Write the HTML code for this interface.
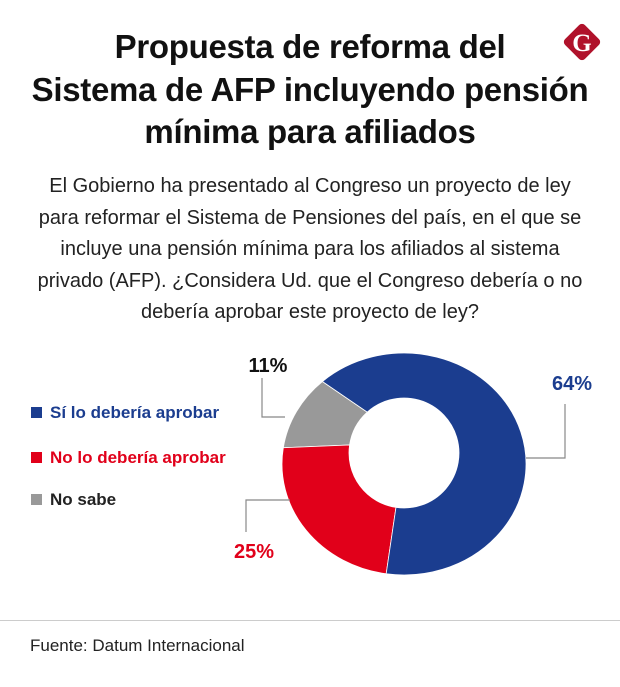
<!DOCTYPE html>
<html><head><meta charset="utf-8"><style>
body{margin:0;width:620px;height:687px;background:#fff;font-family:"Liberation Sans",sans-serif;position:relative;overflow:hidden}
.t{position:absolute;left:0;width:620px;text-align:center;font-weight:bold;font-size:33px;color:#111;letter-spacing:-0.3px}
.s{position:absolute;left:0;width:620px;text-align:center;font-size:20px;color:#222}
.lg{position:absolute;left:31px;font-weight:bold;font-size:17px}
.lg span{display:inline-block;width:11px;height:11px;margin-right:8px;vertical-align:0px}
</style></head><body>
<div class="t" style="top:28px">Propuesta de reforma del</div>
<div class="t" style="top:71px">Sistema de AFP incluyendo pensión</div>
<div class="t" style="top:113px">mínima para afiliados</div>
<svg style="position:absolute;left:560px;top:20px" width="44" height="44" viewBox="0 0 44 44"><rect x="8" y="8" width="28" height="28" rx="4" transform="rotate(45 22 22)" fill="#b0122b"/><text x="22" y="31" text-anchor="middle" font-family="Liberation Serif" font-weight="bold" font-size="25" fill="#fff">G</text></svg>
<div class="s" style="top:171px;line-height:31.5px">El Gobierno ha presentado al Congreso un proyecto de ley<br>para reformar el Sistema de Pensiones del país, en el que se<br>incluye una pensión mínima para los afiliados al sistema<br>privado (AFP). ¿Considera Ud. que el Congreso debería o no<br>debería aprobar este proyecto de ley?</div>
<div class="lg" style="top:403px;color:#1b3d8f"><span style="background:#1b3d8f"></span>Sí lo debería aprobar</div>
<div class="lg" style="top:448px;color:#e1001a"><span style="background:#e1001a"></span>No lo debería aprobar</div>
<div class="lg" style="top:490px;color:#222"><span style="background:#999"></span>No sabe</div>
<svg id="ch" style="position:absolute;left:0;top:0" width="620" height="687">
<polyline points="526,458 565,458 565,404" fill="none" stroke="#888" stroke-width="1.2"/>
<polyline points="285,417 262,417 262,378" fill="none" stroke="#888" stroke-width="1.2"/>
<polyline points="290,500 246,500 246,532" fill="none" stroke="#888" stroke-width="1.2"/>
<text x="572" y="390" text-anchor="middle" font-weight="bold" font-size="20" fill="#1b3d8f">64%</text>
<text x="268" y="372" text-anchor="middle" font-weight="bold" font-size="20" fill="#111">11%</text>
<text x="254" y="558" text-anchor="middle" font-weight="bold" font-size="20" fill="#e1001a">25%</text>
</svg>
<div style="position:absolute;left:0;top:620px;width:620px;height:1px;background:#ccc"></div>
<div style="position:absolute;left:30px;top:636px;font-size:17px;color:#222">Fuente: Datum Internacional</div>
<script>
const categories=["Sí lo debería aprobar","No lo debería aprobar","No sabe"];
const values=[64,25,11];
const colors=["#1b3d8f","#e1001a","#999999"];
const svg=document.getElementById('ch');
const oc={x:404,y:464,rx:122,ry:111}, ic={x:404,y:453,r:55};
const start=-42;
function pt(c,rx,ry,a){const r=a*Math.PI/180;return [c.x+rx*Math.sin(r),c.y-ry*Math.cos(r)];}
const total=values.reduce((a,b)=>a+b,0);
let a0=start;
values.forEach((v,i)=>{
 const a1=a0+v/total*360;
 const big=(a1-a0)>180?1:0;
 const p1=pt(oc,oc.rx,oc.ry,a0),p2=pt(oc,oc.rx,oc.ry,a1),p3=pt(ic,ic.r,ic.r,a1),p4=pt(ic,ic.r,ic.r,a0);
 const p=document.createElementNS('http://www.w3.org/2000/svg','path');
 p.setAttribute('d',`M${p1} A${oc.rx},${oc.ry} 0 ${big} 1 ${p2} L${p3} A${ic.r},${ic.r} 0 ${big} 0 ${p4} Z`);
 p.setAttribute('fill',colors[i]);
 p.setAttribute('stroke','#fff');p.setAttribute('stroke-width','0.8');
 
 
 svg.insertBefore(p,svg.firstChild);
 a0=a1;
});
</script>
</body></html>
